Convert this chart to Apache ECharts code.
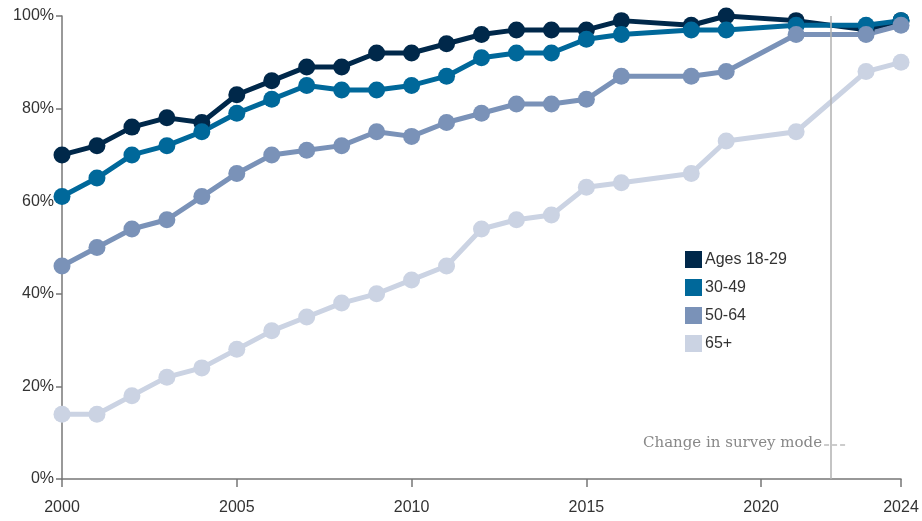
<!DOCTYPE html>
<html>
<head>
<meta charset="utf-8">
<title>Internet use by age</title>
<script src="https://cdn.jsdelivr.net/npm/echarts@6/dist/echarts.min.js"></script>
<style>
  html, body { margin: 0; padding: 0; background: #fff; }
  #main { width: 922px; height: 521px; }
</style>
</head>
<body>
<div id="main"></div>
<script>
// survey years
var years = [2000, 2001, 2002, 2003, 2004, 2005, 2006, 2007, 2008, 2009, 2010,
             2011, 2012, 2013, 2014, 2015, 2016, 2018, 2019, 2021, 2023, 2024];
var ages18to29 = [70, 72, 76, 78, 77, 83, 86, 89, 89, 92, 92, 94, 96, 97, 97, 97, 99, 98, 100, 99, 97, 99];
var ages30to49 = [61, 65, 70, 72, 75, 79, 82, 85, 84, 84, 85, 87, 91, 92, 92, 95, 96, 97, 97, 98, 98, 99];
var ages50to64 = [46, 50, 54, 56, 61, 66, 70, 71, 72, 75, 74, 77, 79, 81, 81, 82, 87, 87, 88, 96, 96, 98];
var ages65plus = [14, 14, 18, 22, 24, 28, 32, 35, 38, 40, 43, 46, 54, 56, 57, 63, 64, 66, 73, 75, 88, 90];
var seriesNames = ['Ages 18-29', '30-49', '50-64', '65+'];
var colors = ['#00284a', '#00689a', '#7a92b8', '#cbd3e3'];
var xTicks = [2000, 2005, 2010, 2015, 2020, 2024];
var modeChangeYear = 2022;

function pairs(vals) {
  return years.map(function (y, i) { return [y, vals[i]]; });
}

var allVals = [ages18to29, ages30to49, ages50to64, ages65plus];
var series = allVals.map(function (vals, i) {
  return {
    name: seriesNames[i],
    type: 'line',
    data: pairs(vals),
    symbol: 'circle',
    symbolSize: 17,
    lineStyle: { width: 5, color: colors[i] },
    itemStyle: { color: colors[i] },
    emphasis: { disabled: true },
    animation: false
  };
});

// survey mode change line
series[0].markLine = {
  silent: true,
  symbol: ['none', 'none'],
  label: { show: false },
  lineStyle: { color: '#b0b0b0', width: 1.5, type: 'solid' },
  data: [{ xAxis: modeChangeYear }]
};

var axisFont = { fontFamily: 'Liberation Sans', fontSize: 16, color: '#333' };

var option = {
  animation: false,
  color: colors,
  grid: { left: 62, right: 21, top: 16, bottom: 42 },
  xAxis: {
    type: 'value',
    min: 2000,
    max: 2024,
    axisLine: { show: true, lineStyle: { color: '#777', width: 1.5 } },
    axisTick: { show: true, length: 8, customValues: xTicks, lineStyle: { color: '#777', width: 1.5 } },
    axisLabel: Object.assign({
      customValues: xTicks,
      margin: 21,
      formatter: function (v) { return String(v); }
    }, axisFont),
    splitLine: { show: false }
  },
  yAxis: {
    type: 'value',
    min: 0,
    max: 100,
    interval: 20,
    axisLine: { show: true, lineStyle: { color: '#777', width: 1.5 } },
    axisTick: { show: true, length: 6, lineStyle: { color: '#777', width: 1.5 } },
    axisLabel: Object.assign({ margin: 8, formatter: '{value}%' }, axisFont),
    splitLine: { show: false }
  },
  legend: {
    orient: 'vertical',
    left: 680,
    top: 246,
    icon: 'rect',
    itemWidth: 17,
    itemHeight: 17,
    itemGap: 11,
    selectedMode: false,
    textStyle: { fontFamily: 'Liberation Sans', fontSize: 16, color: '#333', padding: [0, 0, 0, -2] },
    data: seriesNames
  },
  series: series
};

var myChart = echarts.init(document.getElementById('main'));
myChart.setOption(option);

// annotation beside the survey mode line
var lineX = myChart.convertToPixel({ gridIndex: 0 }, [modeChangeYear, 0])[0];
myChart.setOption({
  graphic: [
    {
      type: 'text',
      right: 922 - lineX + 9,
      top: 436,
      style: { text: 'Change in survey mode', fontFamily: 'DejaVu Serif', fontSize: 15, fill: '#888' }
    },
    {
      type: 'line',
      shape: { x1: lineX - 7, y1: 445, x2: lineX + 14, y2: 445 },
      style: { stroke: '#999', lineWidth: 1, lineDash: [5, 3] }
    }
  ]
});
</script>
</body>
</html>
